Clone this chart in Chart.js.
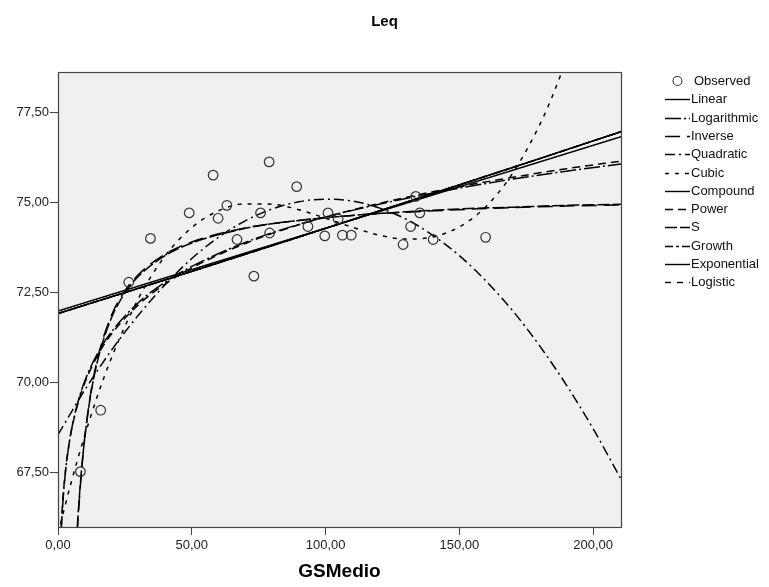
<!DOCTYPE html>
<html>
<head>
<meta charset="utf-8">
<script src="https://cdn.jsdelivr.net/npm/chart.js@4.4.0/dist/chart.umd.min.js"></script>
<style>
  html, body { margin: 0; padding: 0; background: #fff; }
</style>
</head>
<body>
<canvas id="chart" width="769" height="587"></canvas>
<script>
// Observed points (GSMedio, Leq)
const obsX = [8.37, 15.96, 26.44, 34.55, 49.03, 57.97, 59.83, 63.10, 66.90, 73.20, 75.70, 78.90, 79.10,
  89.20, 93.40, 99.70, 100.90, 104.70, 106.30, 109.60, 128.97, 131.80, 133.70, 135.20, 140.20, 159.80];
const obsY = [67.51, 69.22, 72.78, 74.00, 74.71, 75.76, 74.56, 74.92, 73.97, 72.95, 74.71, 76.13, 74.15,
  75.44, 74.33, 74.07, 74.71, 74.54, 74.09, 74.09, 73.83, 74.33, 75.17, 74.71, 73.97, 74.03];

// fitted curves
const linX = [0, 210.4];
const linY = [71.98, 76.83];
const expX = [0, 30, 60, 90, 120, 150, 180, 210.4];
const expY = [71.91, 72.61, 73.32, 74.04, 74.76, 75.49, 76.22, 76.97];
const logX = [1.2, 1.5, 2, 3, 4, 5, 7.5, 10, 15, 20, 30, 40, 50, 70, 90, 110, 130, 150, 170, 190, 210.4];
const logY = [65.83, 66.27, 66.84, 67.64, 68.21, 68.66, 69.46, 70.03, 70.83, 71.40, 72.21, 72.78, 73.22,
  73.89, 74.39, 74.78, 75.11, 75.40, 75.65, 75.87, 76.07];
const powY = [65.98, 66.39, 66.92, 67.68, 68.22, 68.65, 69.42, 69.98, 70.77, 71.34, 72.15, 72.73, 73.18,
  73.86, 74.38, 74.79, 75.14, 75.44, 75.70, 75.94, 76.15];
const invX = [7.2, 7.5, 8, 9, 10, 12, 15, 20, 25, 30, 40, 50, 70, 90, 110, 130, 150, 170, 190, 210.4];
const invY = [65.81, 66.19, 66.76, 67.70, 68.46, 69.59, 70.72, 71.86, 72.54, 72.99, 73.56, 73.90, 74.29,
  74.50, 74.64, 74.73, 74.80, 74.86, 74.90, 74.93];
const sY = [65.96, 66.31, 66.84, 67.73, 68.45, 69.55, 70.66, 71.79, 72.48, 72.94, 73.52, 73.87, 74.28,
  74.50, 74.64, 74.74, 74.82, 74.87, 74.92, 74.95];
const quadX = [0, 10, 20, 30, 40, 50, 60, 70, 80, 90, 100, 110, 120, 130, 140, 150, 160, 170, 180, 190, 200, 210.4];
const quadY = [68.54, 69.78, 70.89, 71.86, 72.71, 73.44, 74.03, 74.49, 74.82, 75.02, 75.09, 75.04, 74.85,
  74.54, 74.09, 73.52, 72.81, 71.98, 71.01, 69.92, 68.70, 67.30];
const cubX = [0, 5, 10, 15, 20, 30, 40, 50, 60, 70, 80, 90, 100, 110, 120, 130, 140, 150, 160, 170, 180, 185, 190];
const cubY = [65.79, 67.23, 68.52, 69.67, 70.68, 72.32, 73.51, 74.30, 74.77, 74.96, 74.95, 74.80, 74.56,
  74.31, 74.09, 73.98, 74.04, 74.32, 74.89, 75.82, 77.16, 78.00, 78.97];

const xTicks = [0, 50, 100, 150, 200];
const yTicks = [67.5, 70, 72.5, 75, 77.5];

const pts = (xs, ys) => xs.map((x, i) => ({ x: x, y: ys[i] }));
const fmt = v => v.toFixed(2).replace('.', ',');

function curve(label, xs, ys, dash) {
  return {
    label: label,
    data: pts(xs, ys),
    showLine: true,
    borderColor: '#000',
    borderWidth: 1.5,
    borderDash: dash,
    pointRadius: 0,
    pointHoverRadius: 0,
    cubicInterpolationMode: 'monotone',
    fill: false
  };
}

const datasets = [
  {
    label: 'Observed',
    data: pts(obsX, obsY),
    pointStyle: 'circle',
    pointRadius: 4.8,
    pointBorderWidth: 1.2,
    pointBorderColor: '#333',
    pointBackgroundColor: 'rgba(0,0,0,0)',
    showLine: false
  },
  curve('Linear', linX, linY, []),
  curve('Logarithmic', logX, logY, [16, 3, 2, 3]),
  curve('Inverse', invX, invY, [15, 7]),
  curve('Quadratic', quadX, quadY, [10, 4, 2, 4]),
  curve('Cubic', cubX, cubY, [4, 6]),
  curve('Compound', expX, expY, []),
  curve('Power', logX, powY, [8, 5]),
  curve('S', invX, sY, [12, 3]),
  curve('Growth', expX, expY, [8, 3, 3, 3]),
  curve('Exponential', expX, expY, []),
  curve('Logistic', expX, expY, [6, 6])
];

// grey plot background and frame
const frame = {
  id: 'frame',
  beforeDraw(chart) {
    const { ctx, chartArea: a } = chart;
    ctx.save();
    ctx.fillStyle = '#fff';
    ctx.fillRect(0, 0, chart.width, chart.height);
    ctx.fillStyle = '#f0f0f0';
    ctx.fillRect(a.left, a.top, a.right - a.left, a.bottom - a.top);
    ctx.restore();
  },
  afterDatasetsDraw(chart) {
    const { ctx, chartArea: a } = chart;
    ctx.save();
    ctx.strokeStyle = '#444';
    ctx.lineWidth = 1.2;
    ctx.strokeRect(Math.round(a.left) + 0.5, Math.round(a.top) + 0.5,
      Math.round(a.right - a.left), Math.round(a.bottom - a.top));
    ctx.restore();
  }
};

// SPSS style legend at the right
const legendBox = {
  id: 'legendBox',
  afterDraw(chart) {
    const ctx = chart.ctx;
    ctx.save();
    ctx.font = '13px "Liberation Sans", Arial, sans-serif';
    ctx.textBaseline = 'middle';
    ctx.fillStyle = '#111';
    chart.data.datasets.forEach((ds, i) => {
      const y = 81 + i * 18.3;
      if (i === 0) {
        ctx.beginPath();
        ctx.strokeStyle = '#333';
        ctx.lineWidth = 1.1;
        ctx.arc(677.5, y, 4.5, 0, Math.PI * 2);
        ctx.stroke();
        ctx.fillText(ds.label, 694, y + 0.5);
      } else {
        ctx.beginPath();
        ctx.strokeStyle = '#000';
        ctx.lineWidth = 1.4;
        ctx.setLineDash(ds.borderDash);
        ctx.moveTo(665, Math.round(y) + 0.5);
        ctx.lineTo(690, Math.round(y) + 0.5);
        ctx.stroke();
        ctx.setLineDash([]);
        ctx.fillText(ds.label, 691, y + 0.5);
      }
    });
    ctx.restore();
  }
};

const tickFont = { family: '"Liberation Sans", Arial, sans-serif', size: 13 };

new Chart(document.getElementById('chart'), {
  type: 'scatter',
  data: { datasets: datasets },
  options: {
    responsive: false,
    animation: false,
    layout: { padding: 0 },
    plugins: {
      legend: { display: false },
      tooltip: { enabled: false },
      title: {
        display: true,
        text: 'Leq',
        color: '#000',
        font: { family: '"Liberation Sans", Arial, sans-serif', size: 15, weight: 'bold' },
        padding: { top: 13, bottom: 41 }
      }
    },
    scales: {
      x: {
        type: 'linear',
        min: 0,
        max: 210.4,
        afterBuildTicks: s => { s.ticks = xTicks.map(v => ({ value: v })); },
        afterFit: s => { s.height = 60; },
        ticks: { callback: v => fmt(v), font: tickFont, color: '#222', autoSkip: false, maxRotation: 0, padding: 3 },
        grid: { drawOnChartArea: false, drawTicks: true, tickLength: 8, color: '#444' },
        border: { display: false },
        title: {
          display: true,
          text: 'GSMedio',
          color: '#000',
          font: { family: '"Liberation Sans", Arial, sans-serif', size: 19, weight: 'bold' },
          padding: { top: 0, bottom: 4 }
        }
      },
      y: {
        type: 'linear',
        min: 65.97,
        max: 78.63,
        afterBuildTicks: s => { s.ticks = yTicks.map(v => ({ value: v })); },
        afterFit: s => { s.width = 58; },
        ticks: { callback: v => fmt(v), font: tickFont, color: '#222', autoSkip: false, padding: 1 },
        grid: { drawOnChartArea: false, drawTicks: true, tickLength: 8, color: '#444' },
        border: { display: false }
      },
      yr: {
        type: 'linear',
        position: 'right',
        display: true,
        afterFit: s => { s.width = 148; },
        ticks: { display: false },
        grid: { display: false },
        border: { display: false }
      }
    }
  },
  plugins: [frame, legendBox]
});
</script>
</body>
</html>
